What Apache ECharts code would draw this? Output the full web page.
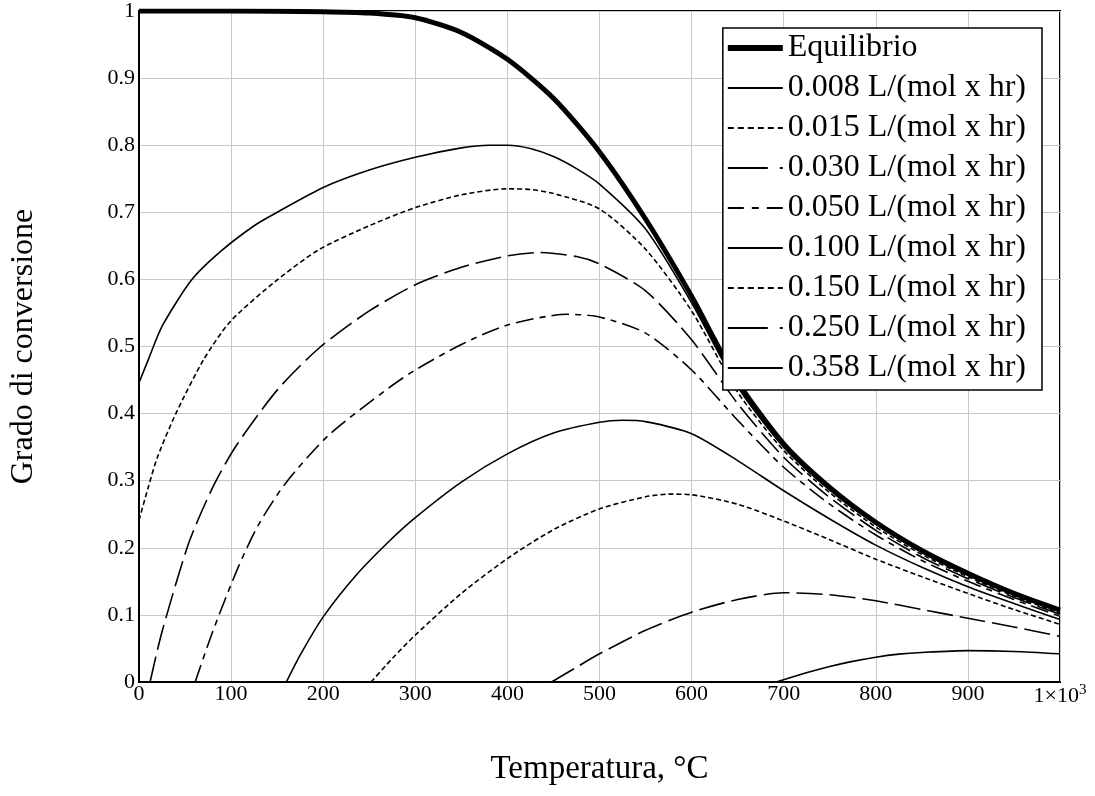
<!DOCTYPE html>
<html>
<head>
<meta charset="utf-8">
<script src="https://cdn.jsdelivr.net/npm/echarts@6/dist/echarts.min.js"></script>
<style>
	html, body { margin: 0; padding: 0; background: #fff; }
	#chart { width: 1095px; height: 796px; }
</style>
</head>
<body>
<div id="chart"></div>
<script>
// [temperatura, grado di conversione]
var eqData = [[0,1],[100,1],[200,0.999],[250,0.997],[300,0.99],[350,0.968],[400,0.928],[450,0.87],[500,0.79],[550,0.69],[600,0.575],[625,0.51],[650,0.447],[700,0.355],[750,0.29],[800,0.238],[850,0.196],[900,0.162],[950,0.132],[1000,0.107]];
var k008 = [[0,0.446],[10,0.48],[25,0.53],[57,0.599],[88,0.641],[125,0.68],[150,0.7],[200,0.737],[250,0.763],[300,0.782],[350,0.796],[380,0.8],[400,0.8],[425,0.795],[450,0.783],[475,0.765],[500,0.742],[550,0.675],[600,0.565],[650,0.44],[700,0.35],[750,0.286],[800,0.235],[850,0.193],[900,0.159],[950,0.13],[1000,0.105]];
var k015 = [[0,0.241],[10,0.29],[20,0.335],[40,0.4],[70,0.48],[99,0.537],[148,0.597],[195,0.644],[250,0.68],[300,0.707],[350,0.726],[400,0.735],[425,0.734],[450,0.728],[500,0.705],[550,0.645],[600,0.553],[650,0.432],[700,0.345],[750,0.282],[800,0.231],[850,0.19],[900,0.157],[950,0.128],[1000,0.103]];
var k030 = [[12,0],[25,0.075],[54,0.207],[80,0.29],[105,0.351],[150,0.435],[195,0.497],[250,0.553],[300,0.592],[350,0.618],[400,0.635],[435,0.64],[475,0.634],[500,0.623],[550,0.583],[600,0.51],[650,0.415],[700,0.335],[750,0.275],[800,0.226],[850,0.186],[900,0.154],[950,0.126],[1000,0.101]];
var k050 = [[61,0],[80,0.075],[108,0.172],[130,0.235],[159,0.296],[206,0.368],[271,0.438],[300,0.465],[350,0.503],[400,0.532],[465,0.548],[500,0.544],[550,0.52],[600,0.465],[650,0.39],[700,0.32],[750,0.265],[800,0.219],[850,0.181],[900,0.15],[950,0.123],[1000,0.098]];
var k100 = [[160,0],[175,0.04],[200,0.097],[235,0.158],[271,0.209],[300,0.245],[350,0.298],[400,0.34],[450,0.371],[500,0.387],[525,0.39],[550,0.388],[600,0.37],[650,0.33],[700,0.285],[750,0.243],[800,0.204],[850,0.171],[900,0.142],[950,0.117],[1000,0.093]];
var k150 = [[252,0],[275,0.035],[300,0.07],[350,0.132],[400,0.184],[450,0.227],[500,0.258],[550,0.276],[575,0.28],[600,0.279],[650,0.265],[700,0.24],[750,0.212],[800,0.183],[850,0.157],[900,0.132],[950,0.108],[1000,0.086]];
var k250 = [[448,0],[475,0.022],[500,0.042],[550,0.077],[600,0.104],[650,0.123],[700,0.133],[750,0.13],[800,0.121],[850,0.108],[900,0.095],[950,0.082],[1000,0.068]];
var k358 = [[692,0],[720,0.012],[750,0.023],[772,0.03],[800,0.037],[825,0.0415],[850,0.044],[900,0.0467],[950,0.0455],[1000,0.042]];

var seriesNames = ['Equilibrio', '0.008 L/(mol x hr)', '0.015 L/(mol x hr)', '0.030 L/(mol x hr)', '0.050 L/(mol x hr)',
	'0.100 L/(mol x hr)', '0.150 L/(mol x hr)', '0.250 L/(mol x hr)', '0.358 L/(mol x hr)'];
var seriesData = [eqData, k008, k015, k030, k050, k100, k150, k250, k358];

var xName = 'Temperatura, °C',
	yName = 'Grado di conversione';

// dash = pattern on the curves, key = pattern in the legend sample
var lineStyles = [
	{ width: 5, dash: 'solid', key: 'solid' },
	{ width: 1.6, dash: 'solid', key: 'solid' },
	{ width: 1.6, dash: [5, 3], key: [6, 4] },
	{ width: 1.6, dash: [26, 7], key: [40, 12] },
	{ width: 1.6, dash: [18, 6, 6, 6], key: [16, 8, 7, 8] },
	{ width: 1.6, dash: 'solid', key: 'solid' },
	{ width: 1.6, dash: [5, 3], key: [6, 4] },
	{ width: 1.6, dash: [26, 7], key: [40, 12] },
	{ width: 1.6, dash: 'solid', key: 'solid' }
];

var font = '"Liberation Serif", "Times New Roman", serif',
	myChart = echarts.init(document.getElementById('chart'), null, { renderer: 'canvas' }),
	series = [],
	legendData = [],
	i, option;

for (i = 0; i < seriesNames.length; i++)
{
	series.push({
		name: seriesNames[i],
		type: 'line',
		data: seriesData[i],
		showSymbol: false,
		symbol: 'none',
		smooth: 0.25,
		color: '#000',
		lineStyle: {
			color: '#000',
			width: lineStyles[i].width,
			type: lineStyles[i].dash,
			cap: 'butt'
		},
		z: i == 0 ? 3 : 2
	});

	legendData.push({
		name: seriesNames[i],
		itemStyle: { opacity: 0 },
		lineStyle: { color: '#000', width: i == 0 ? 6 : 1.8, type: lineStyles[i].key, opacity: 1 }
	});
}

option = {
	animation: false,
	backgroundColor: '#fff',
	textStyle: { fontFamily: font, color: '#000' },
	grid: {
		left: 137,
		right: 35,
		top: 11,
		bottom: 114,
		show: true,
		borderColor: '#000',
		borderWidth: 2
	},
	legend: {
		right: 53,
		top: 28,
		orient: 'vertical',
		backgroundColor: '#fff',
		borderColor: '#000',
		borderWidth: 1.5,
		padding: [0, 16, 2, 2],
		itemGap: 0,
		itemWidth: 55,
		itemHeight: 14,
		itemStyle: { opacity: 0 },
		textStyle: { fontFamily: font, fontSize: 32, color: '#000', lineHeight: 40 },
		data: legendData
	},
	xAxis: {
		type: 'value',
		min: 0,
		max: 1000,
		interval: 100,
		name: xName,
		nameLocation: 'middle',
		nameGap: 71,
		nameTextStyle: { fontFamily: font, fontSize: 33, color: '#000' },
		axisLine: { lineStyle: { color: '#000', width: 2 } },
		axisTick: { show: false },
		splitLine: { lineStyle: { color: '#c8c8c8', width: 1 } },
		axisLabel: {
			margin: 1,
			fontFamily: font,
			fontSize: 22,
			color: '#000',
			formatter: function(v) {
				return v == 1000 ? '{n|1×10}{sup|3}' : String(v);
			},
			rich: {
				n: { fontFamily: font, fontSize: 22, color: '#000' },
				sup: { fontFamily: font, fontSize: 15, color: '#000', verticalAlign: 'top', padding: [0, 0, 12, 0] }
			}
		}
	},
	yAxis: {
		type: 'value',
		min: 0,
		max: 1,
		interval: 0.1,
		name: yName,
		nameLocation: 'middle',
		nameGap: 99,
		nameTextStyle: { fontFamily: font, fontSize: 32, color: '#000' },
		axisLine: { lineStyle: { color: '#000', width: 2 } },
		axisTick: { show: false },
		splitLine: { lineStyle: { color: '#c8c8c8', width: 1 } },
		axisLabel: { margin: 4, padding: [6, 0, 0, 0], fontFamily: font, fontSize: 22, color: '#000' }
	},
	series: series
};

myChart.setOption(option);
</script>
</body>
</html>
